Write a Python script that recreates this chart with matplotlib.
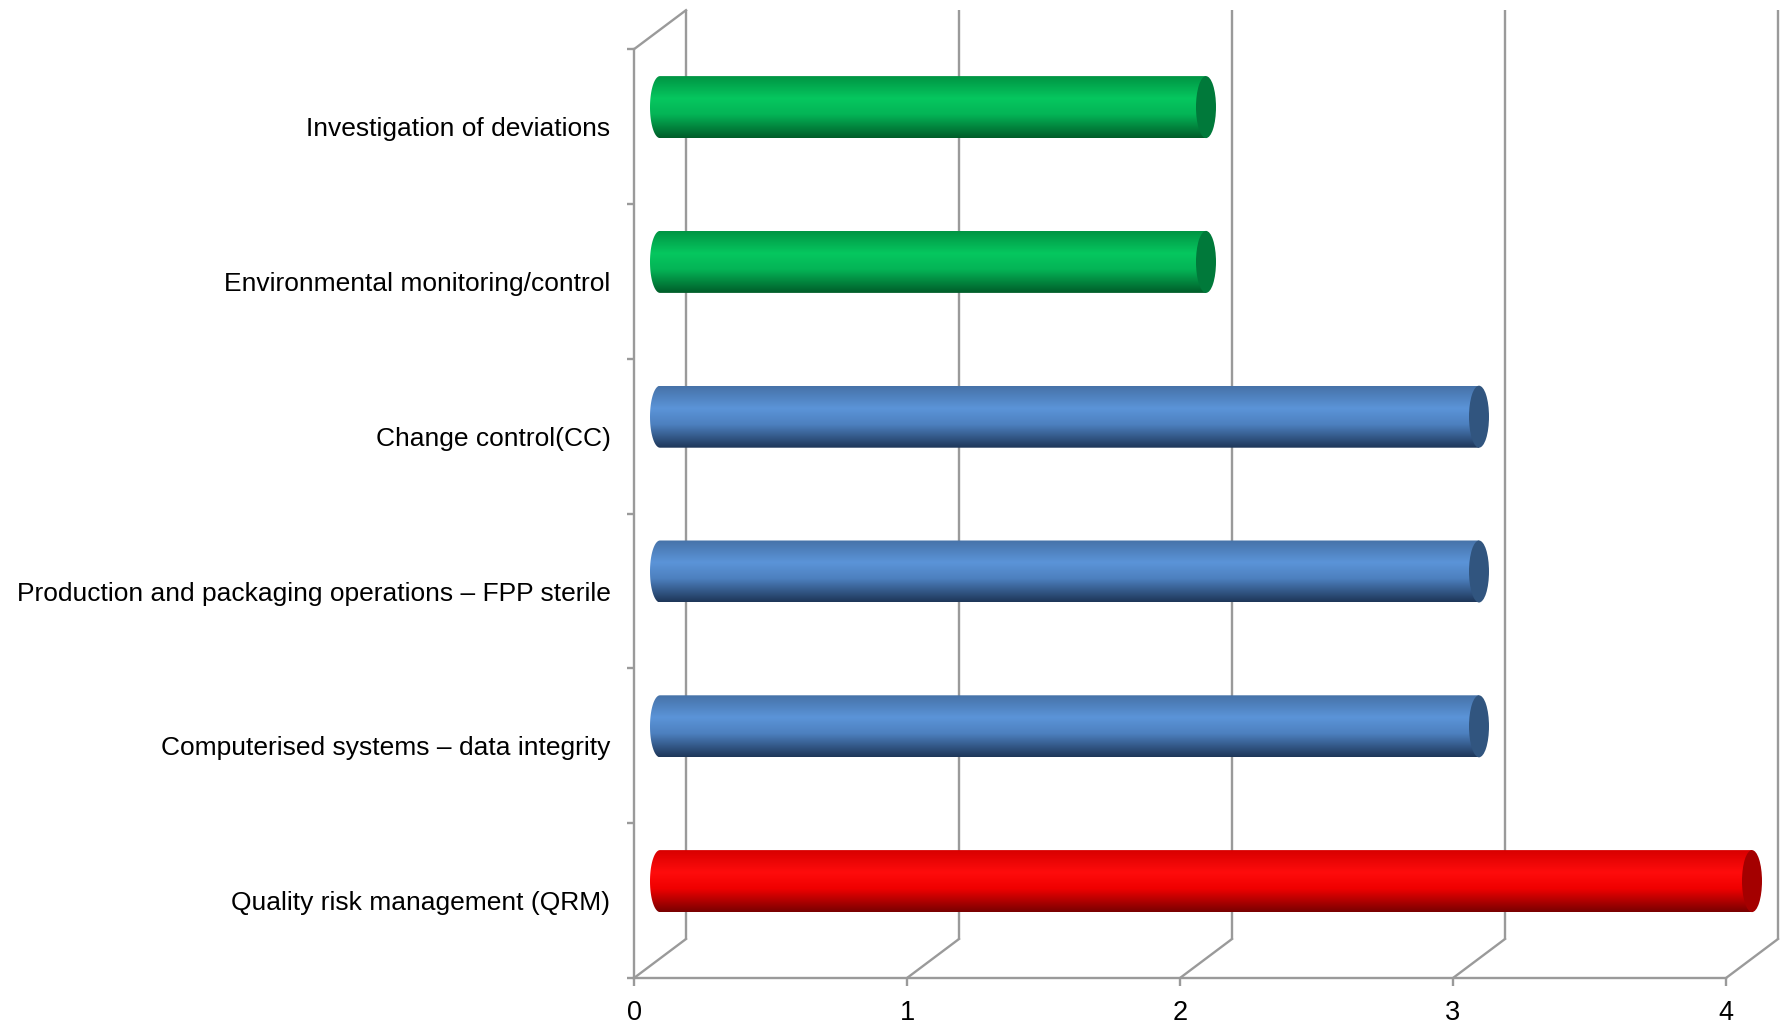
import numpy as np
import matplotlib
matplotlib.use("Agg")
import matplotlib.pyplot as plt
from matplotlib.patches import Ellipse, Polygon
from matplotlib.colors import LinearSegmentedColormap

# ---------------- data ----------------
categories = [
    "Quality risk management (QRM)",
    "Computerised systems \u2013 data integrity",
    "Production and packaging operations \u2013 FPP sterile",
    "Change control(CC)",
    "Environmental monitoring/control",
    "Investigation of deviations",
]
values = [4, 3, 3, 3, 2, 2]
bar_groups = ["red", "blue", "blue", "blue", "green", "green"]
x_ticks = [0, 1, 2, 3, 4]

# gradient stops (top -> bottom) and end-cap colours per colour group
palettes = {
    "green": (["#009443", "#06C75F", "#04B456", "#005C29"], "#00793A"),
    "blue": (["#4672A8", "#5B94D8", "#4D80BF", "#1E3658"], "#31557F"),
    "red": (["#D80000", "#FF0C0C", "#F00000", "#780000"], "#A40000"),
}

# ---------------- figure ----------------
W, H = 1790, 1023
fig = plt.figure(figsize=(W / 100, H / 100), dpi=100)
plt.rcParams["font.family"] = ["Liberation Sans", "DejaVu Sans"]

px_per_x = 273.0
px_per_y = 154.8
left_px = 634
floor_px = 978
ax = fig.add_axes([left_px / W, 0, 1 - left_px / W, 1])
ax.set_xlim(0, (W - left_px) / px_per_x)
ax.set_ylim(-0.5 - (H - floor_px) / px_per_y, -0.5 + floor_px / px_per_y)
ax.autoscale(False)

dx = 52 / px_per_x   # depth offset (value units)
dy = 39 / px_per_y   # depth offset (category units)
n = len(categories)
xmax = x_ticks[-1]
grid_c = "#9A9A9A"
lw = 1.7

# back wall gridlines
for v in x_ticks:
    ax.plot([v + dx, v + dx], [-0.5 + dy, n - 0.5 + dy], color=grid_c, lw=lw,
            solid_capstyle="butt", zorder=1)
    # floor diagonals
    ax.plot([v, v + dx], [-0.5, -0.5 + dy], color=grid_c, lw=lw, zorder=1)
# left wall top diagonal
ax.plot([0, dx], [n - 0.5, n - 0.5 + dy], color=grid_c, lw=lw, zorder=1)

# spines
for s in ["top", "right"]:
    ax.spines[s].set_visible(False)
ax.spines["left"].set_position(("data", 0))
ax.spines["left"].set_bounds(-0.5, n - 0.5)
ax.spines["bottom"].set_position(("data", -0.5))
ax.spines["bottom"].set_bounds(0, xmax)
for s in ["left", "bottom"]:
    ax.spines[s].set_color(grid_c)
    ax.spines[s].set_linewidth(lw)

ax.set_xticks(x_ticks)
ax.set_xticklabels([str(t) for t in x_ticks], fontsize=19.5)
ax.tick_params(axis="x", direction="out", length=6, width=lw, color=grid_c, pad=10,
               labelcolor="black")
ax.set_yticks(range(n))
ax.set_yticklabels(categories, fontsize=19)
ax.tick_params(axis="y", which="major", length=0, pad=17, labelcolor="black")
ax.set_yticks(np.arange(-0.5, n, 1.0), minor=True)
ax.tick_params(axis="y", which="minor", direction="out", length=5, width=lw, color=grid_c)

# cylinders
half_h = 31 / px_per_y
a = 10 / px_per_x
for i, (v, g) in enumerate(zip(values, bar_groups)):
    stops, cap_c = palettes[g]
    cmap = LinearSegmentedColormap.from_list(g, list(zip([0.0, 0.36, 0.62, 1.0], stops)))
    x0 = dx / 2
    x1 = v + dx / 2
    yc = i + dy / 2
    t = np.linspace(np.pi / 2, 3 * np.pi / 2, 60)
    pts = [(x0 + a * np.cos(tt), yc + half_h * np.sin(tt)) for tt in t]
    pts += [(x1, yc - half_h), (x1, yc + half_h)]
    body = Polygon(pts, closed=True, facecolor="none", edgecolor="none", zorder=3)
    ax.add_patch(body)
    grad = np.linspace(0, 1, 256).reshape(-1, 1)
    im = ax.imshow(grad, cmap=cmap, aspect="auto", interpolation="bilinear",
                   extent=[x0 - a, x1, yc - half_h, yc + half_h], origin="upper", zorder=3)
    im.set_clip_path(body)
    cap = Ellipse((x1, yc), 2 * a, 2 * half_h, facecolor=cap_c, edgecolor="none", zorder=4)
    ax.add_patch(cap)

fig.savefig("out.png", dpi=100)
